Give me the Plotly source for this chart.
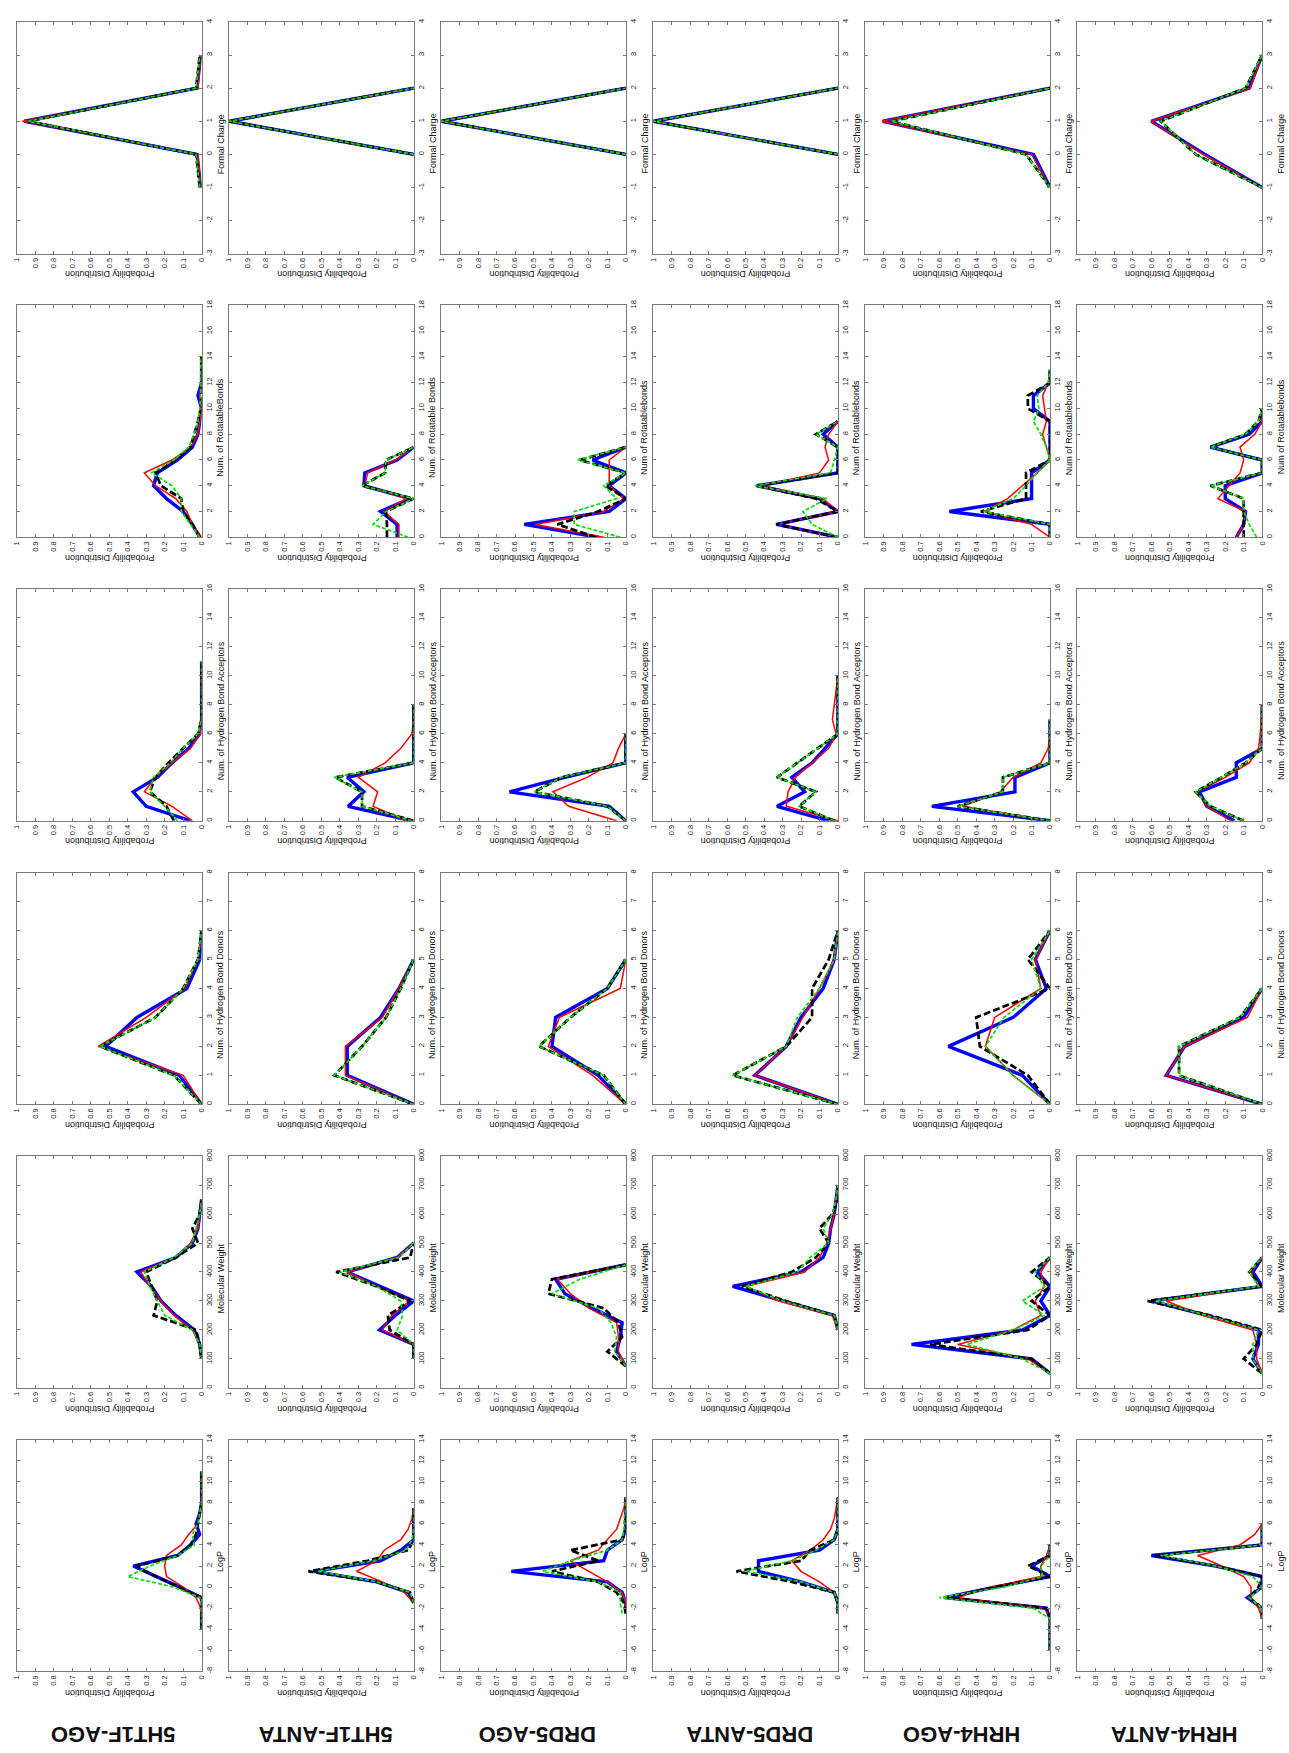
import plotly.graph_objects as go

# ---------------------------------------------------------------------------
# Datasets (columns) and descriptors (rows)
# ---------------------------------------------------------------------------
DATASETS = ["5HT1F-AGO", "5HT1F-ANTA", "DRD5-AGO", "DRD5-ANTA", "HRH4-AGO", "HRH4-ANTA"]
DS_KEYS = ["5HT1F_AGO", "5HT1F_ANTA", "DRD5_AGO", "DRD5_ANTA", "HRH4_AGO", "HRH4_ANTA"]
PROPS = ["FC", "RB", "HBA", "HBD", "MW", "LOGP"]

PROB_TICKS = [0, 0.1, 0.2, 0.3, 0.4, 0.5, 0.6, 0.7, 0.8, 0.9, 1]
PROB_TICK_TEXT = ["0", "0.1", "0.2", "0.3", "0.4", "0.5", "0.6", "0.7", "0.8", "0.9", "1"]

FC_TICKS = [-3, -2, -1, 0, 1, 2, 3, 4]
RB_TICKS = [0, 2, 4, 6, 8, 10, 12, 14, 16, 18]
HBA_TICKS = [0, 2, 4, 6, 8, 10, 12, 14, 16]
HBD_TICKS = [0, 1, 2, 3, 4, 5, 6, 7, 8]
MW_TICKS = [0, 100, 200, 300, 400, 500, 600, 700, 800]
LOGP_TICKS = [-8, -6, -4, -2, 0, 2, 4, 6, 8, 10, 12, 14]

FC_TITLES = ["Formal Charge"] * 6
RB_TITLES = ["Num. of RotatableBonds", "Num. of Rotatable Bonds", "Num of Rotatablebonds",
             "Num of Rotatablebonds", "Num of Rotatablebonds", "Num of Rotatablebonds"]
HBA_TITLES = ["Num. of Hydrogen Bond Acceptors"] * 6
HBD_TITLES = ["Num. of Hydrogen Bond Donors"] * 6
MW_TITLES = ["Molecular Weight"] * 6
LOGP_TITLES = ["LogP"] * 6

# ---------------------------------------------------------------------------
# Formal charge
# ---------------------------------------------------------------------------
FC_5HT1F_AGO_BINS = [-1, 0, 1, 2, 3]
FC_5HT1F_AGO_RED = [0.005, 0.02, 0.97, 0.02, 0.005]
FC_5HT1F_AGO_BLUE = [0.005, 0.025, 0.96, 0.025, 0.005]
FC_5HT1F_AGO_BLACK = [0.01, 0.03, 0.94, 0.03, 0.01]
FC_5HT1F_AGO_GREEN = [0.01, 0.03, 0.94, 0.03, 0.01]

FC_5HT1F_ANTA_BINS = [0, 1, 2]
FC_5HT1F_ANTA_RED = [0, 1, 0]
FC_5HT1F_ANTA_BLUE = [0, 1, 0]
FC_5HT1F_ANTA_BLACK = [0, 1, 0]
FC_5HT1F_ANTA_GREEN = [0, 1, 0]

FC_DRD5_AGO_BINS = [0, 1, 2]
FC_DRD5_AGO_RED = [0, 1, 0]
FC_DRD5_AGO_BLUE = [0, 1, 0]
FC_DRD5_AGO_BLACK = [0, 1, 0]
FC_DRD5_AGO_GREEN = [0, 1, 0]

FC_DRD5_ANTA_BINS = [0, 1, 2]
FC_DRD5_ANTA_RED = [0, 1, 0]
FC_DRD5_ANTA_BLUE = [0, 1, 0]
FC_DRD5_ANTA_BLACK = [0, 1, 0]
FC_DRD5_ANTA_GREEN = [0, 1, 0]

FC_HRH4_AGO_BINS = [-1, 0, 1, 2]
FC_HRH4_AGO_RED = [0, 0.10, 0.91, 0]
FC_HRH4_AGO_BLUE = [0, 0.09, 0.905, 0]
FC_HRH4_AGO_BLACK = [0, 0.13, 0.86, 0]
FC_HRH4_AGO_GREEN = [0, 0.13, 0.86, 0]

FC_HRH4_ANTA_BINS = [-1, 0, 1, 2, 3]
FC_HRH4_ANTA_RED = [0, 0.32, 0.60, 0.065, 0]
FC_HRH4_ANTA_BLUE = [0, 0.31, 0.60, 0.07, 0]
FC_HRH4_ANTA_BLACK = [0, 0.36, 0.55, 0.09, 0]
FC_HRH4_ANTA_GREEN = [0, 0.36, 0.55, 0.09, 0]

# ---------------------------------------------------------------------------
# Rotatable bonds
# ---------------------------------------------------------------------------
RB_5HT1F_AGO_BINS = [0, 1, 2, 3, 4, 5, 6, 7, 8, 9, 10, 11, 12, 13, 14]
RB_5HT1F_AGO_RED = [0.0, 0.05, 0.08, 0.14, 0.25, 0.31, 0.16, 0.06, 0.02, 0.01, 0.0, 0.01, 0.0, 0.0, 0.0]
RB_5HT1F_AGO_BLUE = [0.01, 0.05, 0.10, 0.19, 0.26, 0.24, 0.13, 0.05, 0.02, 0.01, 0.0, 0.02, 0.0, 0.0, 0.0]
RB_5HT1F_AGO_BLACK = [0.01, 0.05, 0.10, 0.11, 0.22, 0.25, 0.14, 0.06, 0.04, 0.02, 0.005, 0.0, 0.0, 0.0, 0.0]
RB_5HT1F_AGO_GREEN = [0.01, 0.06, 0.11, 0.11, 0.16, 0.27, 0.15, 0.07, 0.04, 0.02, 0.01, 0.005, 0.005, 0.005, 0.005]

RB_5HT1F_ANTA_BINS = [0, 1, 2, 3, 4, 5, 6, 7]
RB_5HT1F_ANTA_RED = [0.08, 0.08, 0.16, 0.04, 0.265, 0.25, 0.10, 0.0]
RB_5HT1F_ANTA_BLUE = [0.09, 0.09, 0.18, 0.02, 0.27, 0.265, 0.09, 0.0]
RB_5HT1F_ANTA_BLACK = [0.145, 0.145, 0.15, 0.0, 0.28, 0.155, 0.15, 0.0]
RB_5HT1F_ANTA_GREEN = [0.03, 0.22, 0.15, 0.0, 0.28, 0.155, 0.15, 0.0]

RB_DRD5_AGO_BINS = [0, 1, 2, 3, 4, 5, 6, 7]
RB_DRD5_AGO_RED = [0.12, 0.49, 0.12, 0.01, 0.09, 0.09, 0.09, 0.0]
RB_DRD5_AGO_BLUE = [0.15, 0.55, 0.09, 0.0, 0.09, 0.0, 0.18, 0.0]
RB_DRD5_AGO_BLACK = [0.16, 0.37, 0.15, 0.0, 0.11, 0.0, 0.25, 0.0]
RB_DRD5_AGO_GREEN = [0.03, 0.28, 0.28, 0.05, 0.12, 0.0, 0.26, 0.0]

RB_DRD5_ANTA_BINS = [0, 1, 2, 3, 4, 5, 6, 7, 8, 9]
RB_DRD5_ANTA_RED = [0.0, 0.33, 0.0, 0.08, 0.41, 0.10, 0.05, 0.07, 0.05, 0.0]
RB_DRD5_ANTA_BLUE = [0.0, 0.33, 0.0, 0.10, 0.44, 0.0, 0.0, 0.0, 0.08, 0.0]
RB_DRD5_ANTA_BLACK = [0.0, 0.335, 0.0, 0.12, 0.435, 0.0, 0.0, 0.0, 0.12, 0.0]
RB_DRD5_ANTA_GREEN = [0.0, 0.14, 0.19, 0.06, 0.45, 0.04, 0.02, 0.0, 0.12, 0.0]

RB_HRH4_AGO_BINS = [0, 1, 2, 3, 4, 5, 6, 7, 8, 9, 10, 11, 12, 13]
RB_HRH4_AGO_RED = [0.0, 0.10, 0.355, 0.23, 0.15, 0.07, 0.0, 0.02, 0.04, 0.02, 0.03, 0.04, 0.01, 0.0]
RB_HRH4_AGO_BLUE = [0.0, 0.0, 0.545, 0.10, 0.10, 0.10, 0.0, 0.0, 0.0, 0.0, 0.09, 0.09, 0.0, 0.0]
RB_HRH4_AGO_BLACK = [0.0, 0.0, 0.375, 0.13, 0.13, 0.13, 0.0, 0.0, 0.0, 0.0, 0.12, 0.12, 0.0, 0.0]
RB_HRH4_AGO_GREEN = [0.0, 0.0, 0.36, 0.20, 0.13, 0.07, 0.0, 0.02, 0.05, 0.09, 0.06, 0.07, 0.01, 0.0]

RB_HRH4_ANTA_BINS = [0, 1, 2, 3, 4, 5, 6, 7, 8, 9, 10]
RB_HRH4_ANTA_RED = [0.14, 0.10, 0.09, 0.24, 0.18, 0.12, 0.10, 0.12, 0.04, 0.0, 0.0]
RB_HRH4_ANTA_BLUE = [0.14, 0.10, 0.09, 0.20, 0.20, 0.0, 0.0, 0.28, 0.07, 0.0, 0.0]
RB_HRH4_ANTA_BLACK = [0.10, 0.10, 0.10, 0.10, 0.28, 0.0, 0.0, 0.28, 0.09, 0.02, 0.0]
RB_HRH4_ANTA_GREEN = [0.03, 0.07, 0.10, 0.10, 0.28, 0.0, 0.0, 0.28, 0.09, 0.02, 0.0]

# ---------------------------------------------------------------------------
# Hydrogen bond acceptors
# ---------------------------------------------------------------------------
HBA_5HT1F_AGO_BINS = [0, 1, 2, 3, 4, 5, 6, 7, 8, 9, 10, 11]
HBA_5HT1F_AGO_RED = [0.05, 0.16, 0.31, 0.25, 0.16, 0.06, 0.01, 0, 0, 0, 0, 0]
HBA_5HT1F_AGO_BLUE = [0.06, 0.30, 0.37, 0.24, 0.16, 0.07, 0.01, 0, 0, 0, 0, 0]
HBA_5HT1F_AGO_BLACK = [0.15, 0.19, 0.28, 0.25, 0.18, 0.10, 0.02, 0, 0, 0, 0, 0]
HBA_5HT1F_AGO_GREEN = [0.13, 0.20, 0.28, 0.26, 0.17, 0.10, 0.02, 0, 0, 0, 0, 0]

HBA_5HT1F_ANTA_BINS = [0, 1, 2, 3, 4, 5, 6, 7, 8]
HBA_5HT1F_ANTA_RED = [0.04, 0.22, 0.195, 0.30, 0.155, 0.07, 0.01, 0, 0]
HBA_5HT1F_ANTA_BLUE = [0.01, 0.355, 0.27, 0.36, 0, 0, 0, 0, 0]
HBA_5HT1F_ANTA_BLACK = [0.0, 0.28, 0.28, 0.425, 0, 0, 0, 0, 0]
HBA_5HT1F_ANTA_GREEN = [0.01, 0.28, 0.28, 0.43, 0, 0, 0, 0, 0]

HBA_DRD5_AGO_BINS = [0, 1, 2, 3, 4, 5, 6]
HBA_DRD5_AGO_RED = [0.05, 0.31, 0.395, 0.21, 0.07, 0.04, 0.0]
HBA_DRD5_AGO_BLUE = [0.0, 0.09, 0.63, 0.33, 0.0, 0.0, 0.0]
HBA_DRD5_AGO_BLACK = [0.0, 0.10, 0.495, 0.35, 0.0, 0.0, 0.0]
HBA_DRD5_AGO_GREEN = [0.0, 0.10, 0.495, 0.35, 0.0, 0.0, 0.0]

HBA_DRD5_ANTA_BINS = [0, 1, 2, 3, 4, 5, 6, 7, 8, 9, 10]
HBA_DRD5_ANTA_RED = [0.0, 0.28, 0.27, 0.23, 0.14, 0.05, 0.01, 0.03, 0.02, 0.01, 0.0]
HBA_DRD5_ANTA_BLUE = [0.05, 0.33, 0.18, 0.25, 0.14, 0.07, 0.0, 0, 0, 0, 0]
HBA_DRD5_ANTA_BLACK = [0.02, 0.21, 0.12, 0.33, 0.22, 0.11, 0.0, 0, 0, 0, 0]
HBA_DRD5_ANTA_GREEN = [0.02, 0.21, 0.12, 0.33, 0.22, 0.11, 0.0, 0, 0, 0, 0]

HBA_HRH4_AGO_BINS = [0, 1, 2, 3, 4, 5, 6, 7]
HBA_HRH4_AGO_RED = [0.0, 0.475, 0.27, 0.20, 0.05, 0.01, 0.0, 0.0]
HBA_HRH4_AGO_BLUE = [0.0, 0.64, 0.19, 0.19, 0.0, 0, 0, 0]
HBA_HRH4_AGO_BLACK = [0.0, 0.50, 0.255, 0.255, 0.0, 0, 0, 0]
HBA_HRH4_AGO_GREEN = [0.0, 0.50, 0.255, 0.255, 0.0, 0, 0, 0]

HBA_HRH4_ANTA_BINS = [0, 1, 2, 3, 4, 5, 6, 7, 8]
HBA_HRH4_ANTA_RED = [0.17, 0.30, 0.35, 0.20, 0.07, 0.02, 0.01, 0.005, 0]
HBA_HRH4_ANTA_BLUE = [0.15, 0.30, 0.34, 0.14, 0.14, 0.0, 0, 0, 0]
HBA_HRH4_ANTA_BLACK = [0.10, 0.28, 0.36, 0.22, 0.09, 0.0, 0, 0, 0]
HBA_HRH4_ANTA_GREEN = [0.10, 0.28, 0.36, 0.22, 0.09, 0.0, 0, 0, 0]

# ---------------------------------------------------------------------------
# Hydrogen bond donors
# ---------------------------------------------------------------------------
HBD_5HT1F_AGO_BINS = [0, 1, 2, 3, 4, 5, 6]
HBD_5HT1F_AGO_RED = [0.0, 0.10, 0.56, 0.30, 0.09, 0.02, 0.0]
HBD_5HT1F_AGO_BLUE = [0.0, 0.12, 0.52, 0.35, 0.08, 0.01, 0.0]
HBD_5HT1F_AGO_BLACK = [0.0, 0.15, 0.55, 0.25, 0.10, 0.02, 0.0]
HBD_5HT1F_AGO_GREEN = [0.0, 0.15, 0.55, 0.25, 0.10, 0.02, 0.0]

HBD_5HT1F_ANTA_BINS = [0, 1, 2, 3, 4, 5]
HBD_5HT1F_ANTA_RED = [0.0, 0.37, 0.37, 0.17, 0.08, 0.0]
HBD_5HT1F_ANTA_BLUE = [0.0, 0.36, 0.36, 0.18, 0.08, 0.0]
HBD_5HT1F_ANTA_BLACK = [0.0, 0.43, 0.28, 0.15, 0.07, 0.0]
HBD_5HT1F_ANTA_GREEN = [0.0, 0.43, 0.28, 0.15, 0.07, 0.0]

HBD_DRD5_AGO_BINS = [0, 1, 2, 3, 4, 5]
HBD_DRD5_AGO_RED = [0.0, 0.18, 0.42, 0.36, 0.03, 0.0]
HBD_DRD5_AGO_BLUE = [0.0, 0.15, 0.40, 0.38, 0.10, 0.0]
HBD_DRD5_AGO_BLACK = [0.0, 0.12, 0.47, 0.30, 0.10, 0.0]
HBD_DRD5_AGO_GREEN = [0.0, 0.12, 0.47, 0.30, 0.10, 0.0]

HBD_DRD5_ANTA_BINS = [0, 1, 2, 3, 4, 5, 6]
HBD_DRD5_ANTA_RED = [0.0, 0.45, 0.28, 0.19, 0.10, 0.02, 0.0]
HBD_DRD5_ANTA_BLUE = [0.0, 0.45, 0.28, 0.20, 0.08, 0.02, 0.0]
HBD_DRD5_ANTA_BLACK = [0.0, 0.57, 0.28, 0.14, 0.14, 0.05, 0.0]
HBD_DRD5_ANTA_GREEN = [0.0, 0.57, 0.28, 0.22, 0.10, 0.02, 0.0]

HBD_HRH4_AGO_BINS = [0, 1, 2, 3, 4, 5, 6]
HBD_HRH4_AGO_RED = [0.0, 0.20, 0.35, 0.30, 0.05, 0.08, 0.0]
HBD_HRH4_AGO_BLUE = [0.0, 0.15, 0.55, 0.20, 0.02, 0.08, 0.0]
HBD_HRH4_AGO_BLACK = [0.0, 0.12, 0.38, 0.40, 0.0, 0.12, 0.0]
HBD_HRH4_AGO_GREEN = [0.0, 0.20, 0.35, 0.25, 0.05, 0.10, 0.0]

HBD_HRH4_ANTA_BINS = [0, 1, 2, 3, 4]
HBD_HRH4_ANTA_RED = [0.0, 0.52, 0.42, 0.08, 0.0]
HBD_HRH4_ANTA_BLUE = [0.0, 0.52, 0.42, 0.10, 0.0]
HBD_HRH4_ANTA_BLACK = [0.0, 0.45, 0.45, 0.12, 0.0]
HBD_HRH4_ANTA_GREEN = [0.0, 0.45, 0.45, 0.12, 0.0]

# ---------------------------------------------------------------------------
# Molecular weight
# ---------------------------------------------------------------------------
MW_5HT1F_AGO_BINS = [100, 150, 200, 250, 300, 350, 400, 450, 500, 550, 600, 650]
MW_5HT1F_AGO_RED = [0.0, 0.01, 0.05, 0.15, 0.22, 0.28, 0.33, 0.14, 0.06, 0.02, 0.01, 0.0]
MW_5HT1F_AGO_BLUE = [0.0, 0.01, 0.04, 0.14, 0.22, 0.27, 0.35, 0.14, 0.05, 0.02, 0.01, 0.0]
MW_5HT1F_AGO_BLACK = [0.0, 0.01, 0.03, 0.26, 0.24, 0.27, 0.30, 0.14, 0.02, 0.05, 0.01, 0.0]
MW_5HT1F_AGO_GREEN = [0.0, 0.01, 0.05, 0.20, 0.24, 0.28, 0.31, 0.15, 0.05, 0.03, 0.01, 0.0]

MW_5HT1F_ANTA_BINS = [100, 150, 200, 250, 300, 350, 400, 450, 500]
MW_5HT1F_ANTA_RED = [0.0, 0.0, 0.17, 0.12, 0.02, 0.20, 0.36, 0.09, 0.0]
MW_5HT1F_ANTA_BLUE = [0.0, 0.0, 0.185, 0.10, 0.0, 0.18, 0.36, 0.09, 0.0]
MW_5HT1F_ANTA_BLACK = [0.0, 0.0, 0.13, 0.14, 0.02, 0.20, 0.42, 0.02, 0.0]
MW_5HT1F_ANTA_GREEN = [0.0, 0.0, 0.09, 0.06, 0.07, 0.20, 0.40, 0.08, 0.0]

MW_DRD5_AGO_BINS = [75, 125, 175, 225, 275, 325, 375, 425]
MW_DRD5_AGO_RED = [0.0, 0.04, 0.04, 0.05, 0.20, 0.30, 0.37, 0.0]
MW_DRD5_AGO_BLUE = [0.0, 0.05, 0.03, 0.02, 0.18, 0.33, 0.38, 0.0]
MW_DRD5_AGO_BLACK = [0.0, 0.10, 0.02, 0.04, 0.12, 0.42, 0.40, 0.0]
MW_DRD5_AGO_GREEN = [0.0, 0.06, 0.05, 0.08, 0.15, 0.40, 0.25, 0.0]

MW_DRD5_ANTA_BINS = [200, 250, 300, 350, 400, 450, 500, 550, 600, 650, 700]
MW_DRD5_ANTA_RED = [0.0, 0.03, 0.32, 0.50, 0.18, 0.10, 0.06, 0.04, 0.02, 0.01, 0.0]
MW_DRD5_ANTA_BLUE = [0.0, 0.02, 0.30, 0.57, 0.20, 0.08, 0.05, 0.04, 0.02, 0.01, 0.0]
MW_DRD5_ANTA_BLACK = [0.0, 0.02, 0.28, 0.52, 0.25, 0.12, 0.05, 0.10, 0.03, 0.0, 0.0]
MW_DRD5_ANTA_GREEN = [0.0, 0.02, 0.30, 0.50, 0.22, 0.15, 0.05, 0.08, 0.03, 0.01, 0.0]

MW_HRH4_AGO_BINS = [50, 100, 150, 200, 250, 300, 350, 400, 450]
MW_HRH4_AGO_RED = [0.0, 0.12, 0.50, 0.20, 0.05, 0.08, 0.03, 0.05, 0.0]
MW_HRH4_AGO_BLUE = [0.0, 0.10, 0.75, 0.15, 0.0, 0.05, 0.0, 0.07, 0.0]
MW_HRH4_AGO_BLACK = [0.0, 0.10, 0.65, 0.12, 0.0, 0.10, 0.0, 0.10, 0.0]
MW_HRH4_AGO_GREEN = [0.0, 0.15, 0.45, 0.20, 0.03, 0.15, 0.03, 0.08, 0.0]

MW_HRH4_ANTA_BINS = [50, 100, 150, 200, 250, 300, 350, 400, 450]
MW_HRH4_ANTA_RED = [0.0, 0.03, 0.03, 0.05, 0.32, 0.52, 0.02, 0.06, 0.0]
MW_HRH4_ANTA_BLUE = [0.0, 0.05, 0.02, 0.02, 0.30, 0.60, 0.0, 0.05, 0.0]
MW_HRH4_ANTA_BLACK = [0.0, 0.10, 0.03, 0.0, 0.28, 0.62, 0.0, 0.07, 0.0]
MW_HRH4_ANTA_GREEN = [0.0, 0.05, 0.05, 0.02, 0.30, 0.58, 0.02, 0.07, 0.0]

# ---------------------------------------------------------------------------
# LogP
# ---------------------------------------------------------------------------
LOGP_5HT1F_AGO_BINS = [-4, -3, -2, -1, 0, 1, 2, 3, 4, 5, 6, 7, 8, 9, 10, 11]
LOGP_5HT1F_AGO_RED = [0, 0, 0.005, 0.03, 0.10, 0.19, 0.20, 0.19, 0.11, 0.07, 0.02, 0.01, 0, 0, 0, 0]
LOGP_5HT1F_AGO_BLUE = [0, 0, 0, 0.0, 0.12, 0.25, 0.37, 0.13, 0.06, 0.01, 0.03, 0.01, 0, 0, 0, 0]
LOGP_5HT1F_AGO_BLACK = [0, 0, 0, 0.0, 0.12, 0.25, 0.35, 0.13, 0.06, 0.03, 0.02, 0.01, 0, 0, 0, 0]
LOGP_5HT1F_AGO_GREEN = [0, 0, 0, 0.01, 0.15, 0.40, 0.28, 0.13, 0.04, 0.05, 0.02, 0.01, 0, 0, 0, 0]

LOGP_5HT1F_ANTA_BINS = [-1.5, -0.5, 0.5, 1.5, 2.5, 3.5, 4.5, 5.5, 6.5, 7.5]
LOGP_5HT1F_ANTA_RED = [0, 0.05, 0.17, 0.31, 0.20, 0.16, 0.07, 0.03, 0.01, 0]
LOGP_5HT1F_ANTA_BLUE = [0, 0.03, 0.20, 0.54, 0.18, 0.07, 0.0, 0, 0, 0]
LOGP_5HT1F_ANTA_BLACK = [0, 0.02, 0.20, 0.57, 0.25, 0.03, 0.0, 0, 0, 0]
LOGP_5HT1F_ANTA_GREEN = [0, 0.02, 0.20, 0.52, 0.22, 0.04, 0.01, 0, 0, 0]

LOGP_DRD5_AGO_BINS = [-2.5, -1.5, -0.5, 0.5, 1.5, 2.5, 3.5, 4.5, 5.5, 6.5, 7.5, 8.5]
LOGP_DRD5_AGO_RED = [0, 0.0, 0.02, 0.10, 0.20, 0.30, 0.15, 0.10, 0.05, 0.03, 0.01, 0]
LOGP_DRD5_AGO_BLUE = [0, 0.0, 0.02, 0.10, 0.62, 0.12, 0.10, 0.02, 0, 0, 0, 0]
LOGP_DRD5_AGO_BLACK = [0, 0.01, 0.05, 0.15, 0.40, 0.15, 0.30, 0.02, 0, 0, 0, 0]
LOGP_DRD5_AGO_GREEN = [0.02, 0.03, 0.03, 0.15, 0.45, 0.30, 0.10, 0.02, 0.01, 0.01, 0, 0]

LOGP_DRD5_ANTA_BINS = [-2.5, -1.5, -0.5, 0.5, 1.5, 2.5, 3.5, 4.5, 5.5, 6.5, 7.5, 8.5]
LOGP_DRD5_ANTA_RED = [0, 0, 0.02, 0.10, 0.20, 0.25, 0.15, 0.08, 0.04, 0.02, 0.01, 0]
LOGP_DRD5_ANTA_BLUE = [0, 0, 0.02, 0.20, 0.43, 0.43, 0.10, 0.02, 0, 0, 0, 0]
LOGP_DRD5_ANTA_BLACK = [0, 0, 0.02, 0.25, 0.55, 0.20, 0.15, 0.02, 0, 0, 0, 0]
LOGP_DRD5_ANTA_GREEN = [0, 0, 0.02, 0.20, 0.50, 0.25, 0.12, 0.02, 0, 0, 0, 0]

LOGP_HRH4_AGO_BINS = [-6, -5, -4, -3, -2, -1, 0, 1, 2, 3, 4]
LOGP_HRH4_AGO_RED = [0, 0, 0, 0, 0.03, 0.50, 0.32, 0.05, 0.05, 0.02, 0]
LOGP_HRH4_AGO_BLUE = [0, 0, 0, 0, 0.02, 0.57, 0.30, 0.0, 0.10, 0.0, 0]
LOGP_HRH4_AGO_BLACK = [0, 0, 0, 0, 0.02, 0.55, 0.30, 0.0, 0.12, 0.0, 0]
LOGP_HRH4_AGO_GREEN = [0, 0, 0, 0, 0.09, 0.60, 0.25, 0.04, 0.05, 0.0, 0]

LOGP_HRH4_ANTA_BINS = [-3, -2, -1, 0, 1, 2, 3, 4, 5, 6]
LOGP_HRH4_ANTA_RED = [0, 0.02, 0.06, 0.06, 0.10, 0.22, 0.35, 0.12, 0.04, 0]
LOGP_HRH4_ANTA_BLUE = [0, 0, 0.08, 0.0, 0.0, 0.25, 0.60, 0.0, 0.0, 0.0]
LOGP_HRH4_ANTA_BLACK = [0, 0, 0.07, 0.02, 0.0, 0.25, 0.58, 0.0, 0, 0]
LOGP_HRH4_ANTA_GREEN = [0, 0.0, 0.07, 0.0, 0.05, 0.25, 0.55, 0.0, 0, 0]

# ---------------------------------------------------------------------------
# Figure geometry (pixels)
# ---------------------------------------------------------------------------
W, H = 1289, 1753
COL_X0, COL_STEP, PANEL_W = 12, 213.6, 186
ROW_Y0, ROW_STEP, PANEL_H = 15, 285, 233

ROW_AXES = {
    "FC": (FC_TICKS, FC_TITLES),
    "RB": (RB_TICKS, RB_TITLES),
    "HBA": (HBA_TICKS, HBA_TITLES),
    "HBD": (HBD_TICKS, HBD_TITLES),
    "MW": (MW_TICKS, MW_TITLES),
    "LOGP": (LOGP_TICKS, LOGP_TITLES),
}

# drawing order: thick blue underneath, thin red, black dashes, green dashes on top
SERIES_STYLE = [
    ("BLUE", dict(color="#0000FF", width=3.4)),
    ("RED", dict(color="#FF0000", width=1.5)),
    ("BLACK", dict(color="#000000", width=2.7, dash="7px,3px")),
    ("GREEN", dict(color="#00E000", width=1.7, dash="4px,2px")),
]

FONT = "Liberation Sans, Arial, sans-serif"
FRAME = "#7a7a7a"

fig = go.Figure()
layout = dict(
    width=W, height=H,
    margin=dict(l=0, r=0, t=0, b=0),
    paper_bgcolor="white", plot_bgcolor="white",
    showlegend=False,
    font=dict(family=FONT, color="#222"),
)
annotations = []


def px_x(v):
    return v / W


def px_y(v):
    return 1 - v / H


for r, prop in enumerate(PROPS):
    ticks, titles = ROW_AXES[prop]
    for c, key in enumerate(DS_KEYS):
        n = r * 6 + c + 1
        sfx = "" if n == 1 else str(n)
        left = COL_X0 + c * COL_STEP
        top = ROW_Y0 + r * ROW_STEP
        layout["xaxis" + sfx] = dict(
            domain=[px_x(left), px_x(left + PANEL_W)],
            anchor="y" + sfx,
            range=[1, 0],
            tickvals=PROB_TICKS, ticktext=PROB_TICK_TEXT,
            tickangle=-90,
            tickfont=dict(size=7.5, color="#222"),
            ticks="inside", ticklen=3, tickcolor=FRAME,
            showline=True, linecolor=FRAME, linewidth=1, mirror="ticks",
            showgrid=False, zeroline=False, fixedrange=True,
        )
        layout["yaxis" + sfx] = dict(
            domain=[px_y(top + PANEL_H), px_y(top)],
            anchor="x" + sfx,
            side="right",
            range=[ticks[0], ticks[-1]],
            tickvals=ticks, ticktext=[str(t) for t in ticks],
            tickangle=-90,
            tickfont=dict(size=7.5, color="#222"),
            ticks="inside", ticklen=3, tickcolor=FRAME,
            showline=True, linecolor=FRAME, linewidth=1, mirror="ticks",
            showgrid=False, zeroline=False, fixedrange=True,
        )

        bins = globals()[f"{prop}_{key}_BINS"]
        for sname, line in SERIES_STYLE:
            probs = globals()[f"{prop}_{key}_{sname}"]
            fig.add_trace(go.Scatter(
                x=probs, y=bins, mode="lines", line=line,
                xaxis="x" + sfx, yaxis="y" + sfx,
                name=f"{DATASETS[c]} {sname.lower()}",
                hoverinfo="x+y",
            ))

        # axis titles (probability axis sits at the bottom, upside down)
        annotations.append(dict(
            x=px_x(left + PANEL_W / 2), y=px_y(top + PANEL_H + 21),
            xref="paper", yref="paper", showarrow=False,
            text="Probability Distribution", textangle=180,
            font=dict(size=9, color="#111", family=FONT),
            xanchor="center", yanchor="middle",
        ))
        annotations.append(dict(
            x=px_x(left + PANEL_W + 19), y=px_y(top + PANEL_H / 2 + 6),
            xref="paper", yref="paper", showarrow=False,
            text=titles[c], textangle=-90,
            font=dict(size=9, color="#111", family=FONT),
            xanchor="center", yanchor="middle",
        ))

# dataset labels under each column
for c, name in enumerate(DATASETS):
    left = COL_X0 + c * COL_STEP
    annotations.append(dict(
        x=px_x(left + PANEL_W / 2 + 4), y=px_y(1737),
        xref="paper", yref="paper", showarrow=False,
        text=f"<b>{name}</b>", textangle=180,
        font=dict(size=22, color="#111", family=FONT),
        xanchor="center", yanchor="middle",
    ))

layout["annotations"] = annotations
fig.update_layout(**layout)
fig.write_html("out.html")
